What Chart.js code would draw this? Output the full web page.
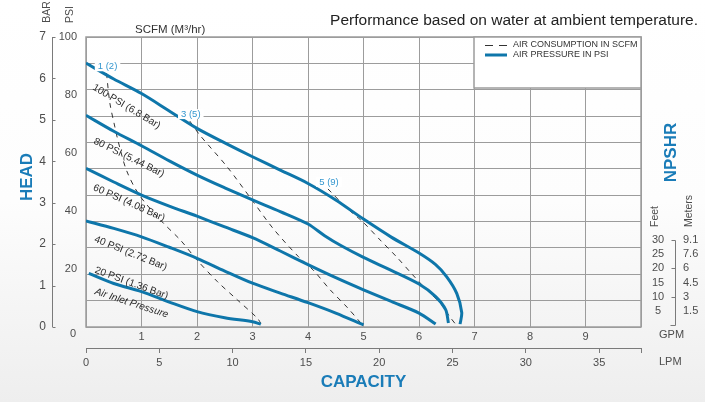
<!DOCTYPE html>
<html>
<head>
<meta charset="utf-8">
<script src="https://cdn.jsdelivr.net/npm/chart.js@4.4.1/dist/chart.umd.min.js"></script>
<style>
    html, body { margin: 0; padding: 0; background: #fff; }
    #wrap { width: 705px; height: 402px; position: relative; }
</style>
</head>
<body>
<div id="wrap"><canvas id="pumpChart" width="705" height="402"></canvas></div>
<script>
// Ticks / etiquetas de ejes
const lpmTicks = [0, 5, 10, 15, 20, 25, 30, 35];
const psiTicks = [0, 20, 40, 60, 80, 100];
const barTicks = [0, 1, 2, 3, 4, 5, 6, 7];
const npshrFeet = [5, 10, 15, 20, 25, 30];
const npshrMeters = ['1.5', '3', '4.5', '6', '7.6', '9.1'];

// Curvas de presión de aire (GPM, PSI de descarga)
const psi100 = [[0, 91], [0.5, 85.5], [1, 80.5], [1.5, 74.5], [2, 68.5], [2.5, 63.5], [3, 58.7], [3.5, 54.1], [4, 49.5], [4.5, 43.8], [5, 37.2], [5.5, 31], [6, 25.5], [6.3, 21.5], [6.5, 17.3], [6.68, 11.6], [6.77, 5], [6.74, 1]];
const psi80 = [[0, 73], [0.5, 67.5], [1, 62.5], [1.5, 57.3], [2, 52.4], [2.5, 48], [3, 43.8], [3.5, 39.8], [4, 35.5], [4.3, 31.5], [4.6, 28], [5, 24], [5.5, 19.5], [6, 14.8], [6.3, 10.5], [6.48, 6], [6.53, 1.4]];
const psi60 = [[0, 54.7], [0.5, 50], [1, 45.5], [1.5, 41.7], [2, 38.2], [2.5, 34.5], [3, 30.8], [3.5, 26.2], [4, 21.5], [4.5, 17], [5, 12.8], [5.5, 8.8], [6, 4.8], [6.3, 1]];
const psi40 = [[0, 36.6], [0.5, 34], [1, 31.1], [1.5, 27.5], [2, 23.7], [2.5, 19.3], [3, 15.1], [3.5, 11.7], [4, 8.4], [4.5, 4.8], [5, 0.7]];
const psi20 = [[0.05, 18.5], [0.5, 15], [1, 12.2], [1.5, 8.6], [2, 5.3], [2.5, 3.2], [3, 1.8], [3.15, 1]];

// Consumo de aire en SCFM (líneas discontinuas)
const scfm1 = [[0.37, 87.5], [0.43, 77.2], [0.52, 69], [0.58, 64], [0.73, 54], [0.96, 45.5], [1.37, 36.3], [1.7, 30], [2, 23.1], [2.37, 15.6], [2.73, 9.3], [3.09, 3], [3.15, 1.2]];
const scfm3 = [[1.87, 71], [2.05, 66.2], [2.54, 55.3], [2.99, 43.8], [3.37, 34], [3.83, 24.2], [4.09, 19.7], [4.4, 12.8], [4.7, 6.9], [4.97, 1]];
const scfm5 = [[4.36, 47.6], [4.7, 41], [4.99, 36.2], [5.3, 30], [5.6, 24.1], [5.89, 17.9], [6.14, 12.8], [6.38, 8.3], [6.56, 3.4], [6.67, 0.7]];

const pressureCurves = [psi100, psi80, psi60, psi40, psi20];
const airCurves = [scfm1, scfm3, scfm5];
const airLabels = ['1 (2)', '3 (5)', '5 (9)'];
const curveLabels = ['100 PSI (6.8 Bar)', '80 PSI (5.44 Bar)', '60 PSI (4.08 Bar)', '40 PSI (2.72 Bar)', '20 PSI (1.36 Bar)', 'Air Inlet Pressure'];
const legendLabels = ['AIR CONSUMPTION IN SCFM', 'AIR PRESSURE IN PSI'];

// Posición de las etiquetas giradas (en unidades GPM / PSI)
const curveLabelSpots = [
    { gpm: 0.73, psi: 76.0, angle: 31 },
    { gpm: 0.775, psi: 58.4, angle: 26 },
    { gpm: 0.775, psi: 42.8, angle: 24 },
    { gpm: 0.805, psi: 25.4, angle: 22 },
    { gpm: 0.82, psi: 15.1, angle: 20 },
    { gpm: 0.82, psi: 8.2, angle: 18 }
];

const BLUE = '#0e76aa';
const TITLE_BLUE = '#1a7cb8';
const LABEL_BLUE = '#3497cf';
const GRID = '#9c9c9c';
const AXIS = '#7a7a7a';
const TEXT = '#4d4d4d';
const FONT = "'Liberation Sans', Arial, Helvetica, sans-serif";
const GPM_TO_LPM = 3.7854;

const toXY = arr => arr.map(p => ({ x: p[0], y: p[1] }));
const tickFont = { family: FONT, size: 11 };

const decor = {
    id: 'decor',
    beforeDraw(chart) {
        const { ctx, width, height } = chart;
        const g = ctx.createLinearGradient(0, 0, 0, height);
        g.addColorStop(0, '#ffffff');
        g.addColorStop(0.5, '#fdfdfd');
        g.addColorStop(1, '#eeeeee');
        ctx.save();
        ctx.fillStyle = g;
        ctx.fillRect(0, 0, width, height);
        ctx.restore();
    },
    beforeDatasetsDraw(chart) {
        const { ctx, chartArea: a } = chart;
        ctx.save();
        ctx.strokeStyle = GRID;
        ctx.lineWidth = 1.5;
        ctx.strokeRect(a.left, a.top, a.right - a.left, a.bottom - a.top);
        ctx.restore();
    },
    afterDatasetsDraw(chart) {
        const { ctx, chartArea: a, scales } = chart;
        const sx = scales.x, sy = scales.y;
        ctx.save();

        // Leyenda
        const lx = 474, ly = a.top, lw = a.right - 474, lh = 51;
        ctx.fillStyle = '#ffffff';
        ctx.fillRect(lx, ly, lw, lh);
        ctx.strokeStyle = GRID;
        ctx.lineWidth = 1.5;
        ctx.strokeRect(lx, ly, lw, lh);
        ctx.strokeStyle = '#333';
        ctx.lineWidth = 1;
        ctx.setLineDash([8, 6]);
        ctx.beginPath(); ctx.moveTo(485, 45.5); ctx.lineTo(507, 45.5); ctx.stroke();
        ctx.setLineDash([]);
        ctx.strokeStyle = BLUE;
        ctx.lineWidth = 3;
        ctx.beginPath(); ctx.moveTo(485, 55); ctx.lineTo(507, 55); ctx.stroke();
        ctx.fillStyle = '#333';
        ctx.font = `9px ${FONT}`;
        ctx.textBaseline = 'middle';
        ctx.textAlign = 'left';
        ctx.fillText(legendLabels[0], 513, 45);
        ctx.fillText(legendLabels[1], 513, 55);

        // Etiquetas SCFM sobre las líneas discontinuas
        ctx.font = `9.5px ${FONT}`;
        ctx.textAlign = 'center';
        airCurves.forEach((d, i) => {
            const px = sx.getPixelForValue(d[0][0]) + 1;
            const py = sy.getPixelForValue(d[0][1]) - 7;
            const w = ctx.measureText(airLabels[i]).width + 6;
            ctx.fillStyle = '#ffffff';
            ctx.fillRect(px - w / 2, py - 5, w, 10);
            ctx.fillStyle = LABEL_BLUE;
            ctx.fillText(airLabels[i], px, py);
        });

        // Etiquetas de presión giradas
        ctx.fillStyle = '#2a2a2a';
        curveLabels.forEach((txt, i) => {
            const s = curveLabelSpots[i];
            ctx.save();
            ctx.translate(sx.getPixelForValue(s.gpm), sy.getPixelForValue(s.psi));
            ctx.rotate(s.angle * Math.PI / 180);
            ctx.font = (i === 5 ? 'italic ' : '') + `10px ${FONT}`;
            ctx.textAlign = 'center';
            ctx.textBaseline = 'middle';
            ctx.fillText(txt, 0, 0);
            ctx.restore();
        });
        ctx.restore();
    },
    afterDraw(chart) {
        const { ctx, chartArea: a, scales } = chart;
        ctx.save();

        // Eje BAR con marcas hacia la derecha
        const yb = scales.ybar;
        const bx = Math.round(yb.right) + 0.5;
        ctx.strokeStyle = AXIS;
        ctx.lineWidth = 1;
        ctx.beginPath();
        ctx.moveTo(bx, yb.top); ctx.lineTo(bx, yb.bottom);
        barTicks.forEach(v => {
            const y = Math.round(yb.getPixelForValue(v)) + 0.5;
            ctx.moveTo(bx, y); ctx.lineTo(bx + 3, y);
        });
        ctx.stroke();

        // Eje NPSHR
        const ft = scales.ft;
        const nx = 675.5;
        const yTop = Math.round(ft.getPixelForValue(30)) + 0.5;
        const yBot = Math.round(ft.getPixelForValue(0)) + 0.5;
        ctx.beginPath();
        ctx.moveTo(nx, yTop); ctx.lineTo(nx, yBot); ctx.lineTo(nx - 5, yBot);
        [10, 20, 30].forEach(v => {
            const y = Math.round(ft.getPixelForValue(v)) + 0.5;
            ctx.moveTo(nx - 4, y); ctx.lineTo(nx, y);
        });
        ctx.stroke();
        ctx.fillStyle = TEXT;
        ctx.font = `11px ${FONT}`;
        ctx.textAlign = 'left';
        ctx.textBaseline = 'middle';
        npshrFeet.forEach((v, i) => ctx.fillText(npshrMeters[i], 683, ft.getPixelForValue(v)));

        // Textos sueltos
        ctx.fillText('GPM', 659, 335);
        ctx.fillText('LPM', 659, 362);
        ctx.textAlign = 'center';
        ctx.fillText('0', 73, 334);

        ctx.fillStyle = '#333';
        ctx.font = `11.5px ${FONT}`;
        ctx.textAlign = 'left';
        ctx.fillText('SCFM (M³/hr)', 135, 30);
        ctx.fillStyle = '#222';
        ctx.font = `15.5px ${FONT}`;
        ctx.textAlign = 'right';
        ctx.fillText('Performance based on water at ambient temperature.', 698, 21);

        ctx.fillStyle = TITLE_BLUE;
        ctx.font = `bold 17px ${FONT}`;
        ctx.textAlign = 'center';
        ctx.fillText('CAPACITY', (a.left + a.right) / 2, 382);

        const vtext = (txt, x, y, font, color, align) => {
            ctx.save();
            ctx.translate(x, y);
            ctx.rotate(-Math.PI / 2);
            ctx.font = font;
            ctx.fillStyle = color;
            ctx.textAlign = align;
            ctx.textBaseline = 'middle';
            ctx.fillText(txt, 0, 0);
            ctx.restore();
        };
        vtext('HEAD', 27.5, 177, `bold 17px ${FONT}`, TITLE_BLUE, 'center');
        vtext('NPSHR', 671.5, 152.5, `bold 17px ${FONT}`, TITLE_BLUE, 'center');
        vtext('BAR', 47.5, 12, `10.5px ${FONT}`, TEXT, 'center');
        vtext('PSI', 70.5, 14.5, `10.5px ${FONT}`, TEXT, 'center');
        vtext('Feet', 655.5, 227, `10.5px ${FONT}`, TEXT, 'left');
        vtext('Meters', 689, 227, `10.5px ${FONT}`, TEXT, 'left');
        ctx.restore();
    }
};

const datasets = [
    ...pressureCurves.map(d => ({
        label: legendLabels[1],
        data: toXY(d),
        xAxisID: 'x',
        yAxisID: 'y',
        borderColor: BLUE,
        borderWidth: 3,
        showLine: true,
        pointRadius: 0,
        tension: 0.3,
        fill: false
    })),
    ...airCurves.map(d => ({
        label: legendLabels[0],
        data: toXY(d),
        xAxisID: 'x',
        yAxisID: 'y',
        borderColor: '#333',
        borderWidth: 1,
        borderDash: [5, 5],
        showLine: true,
        pointRadius: 0,
        tension: 0.3,
        fill: false
    }))
];

new Chart(document.getElementById('pumpChart'), {
    type: 'scatter',
    data: { datasets },
    options: {
        responsive: false,
        animation: false,
        layout: { padding: { top: 37, bottom: 32, left: 0, right: 0 } },
        plugins: {
            legend: { display: false },
            tooltip: { enabled: false },
            title: { display: false }
        },
        scales: {
            x: {
                type: 'linear', position: 'bottom', min: 0, max: 10, weight: 0,
                grid: { color: GRID, lineWidth: 1, drawTicks: false },
                border: { display: false },
                ticks: {
                    stepSize: 1, padding: 3, color: TEXT, font: tickFont, autoSkip: false, maxRotation: 0,
                    callback: v => (v > 0 && v < 10) ? v : ''
                },
                afterFit: s => { s.height = 21; }
            },
            x2: {
                type: 'linear', position: 'bottom', min: 0, max: 10 * GPM_TO_LPM, weight: 1,
                grid: { display: true, drawOnChartArea: false, drawTicks: true, tickLength: 5, color: AXIS },
                border: { display: true, color: AXIS, width: 1 },
                ticks: {
                    padding: 3, color: TEXT, font: tickFont, autoSkip: false, maxRotation: 0,
                    callback: v => v <= 35 ? v : ''
                },
                afterBuildTicks: s => { s.ticks = lpmTicks.concat([10 * GPM_TO_LPM]).map(v => ({ value: v })); },
                afterFit: s => { s.height = 22; }
            },
            yg: {
                type: 'linear', position: 'left', min: 0, max: 11, weight: 0,
                grid: { color: GRID, lineWidth: 1, drawTicks: false },
                border: { display: false },
                ticks: { display: false, stepSize: 1 },
                afterFit: s => { s.width = 0; }
            },
            y: {
                type: 'linear', position: 'left', min: 0, max: 100, weight: 1,
                grid: { display: false, drawTicks: false },
                border: { display: false },
                ticks: { padding: 9, color: TEXT, font: tickFont, callback: v => v === 0 ? '' : v },
                afterBuildTicks: s => { s.ticks = psiTicks.map(v => ({ value: v })); },
                afterFit: s => { s.width = 34; }
            },
            ybar: {
                type: 'linear', position: 'left', min: 0, max: 7, weight: 2,
                grid: { display: false, drawTicks: false },
                border: { display: false },
                ticks: { padding: 6, color: TEXT, font: { family: FONT, size: 12 } },
                afterBuildTicks: s => { s.ticks = barTicks.map(v => ({ value: v })); },
                afterFit: s => { s.width = 52; }
            },
            ft: {
                type: 'linear', position: 'right', min: -0.7, max: 101.65, weight: 0,
                grid: { display: false, drawTicks: false },
                border: { display: false },
                ticks: { padding: 11, crossAlign: 'center', color: TEXT, font: tickFont },
                afterBuildTicks: s => { s.ticks = npshrFeet.map(v => ({ value: v })); },
                afterFit: s => { s.width = 64; }
            }
        }
    },
    plugins: [decor]
});
</script>
</body>
</html>
